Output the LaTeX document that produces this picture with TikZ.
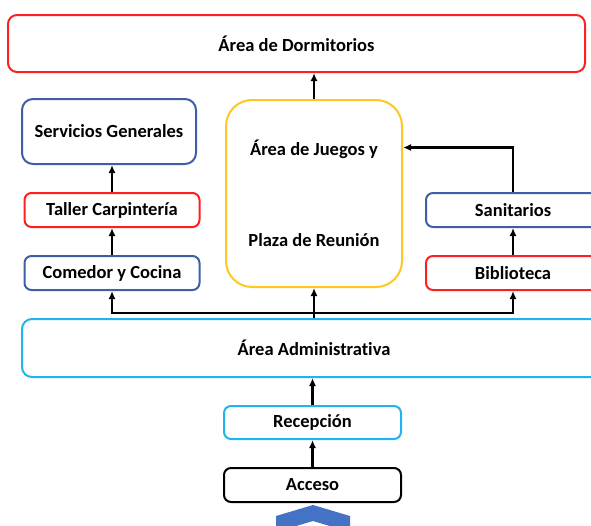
\documentclass[tikz,border=0pt]{standalone}
\usepackage{fontspec}
\setmainfont[Ligatures=NoCommon]{Carlito}
\usetikzlibrary{arrows.meta,positioning}
\definecolor{PLNred}{HTML}{FF1F1F}
\definecolor{PLNblue}{HTML}{3E5FA3}
\definecolor{PLNgold}{HTML}{FFC81E}
\definecolor{PLNsky}{HTML}{1EB4EE}
\definecolor{PLNchev}{HTML}{4472C4}
\tikzset{zonebox/.style={draw,line width=2pt,rounded corners=7pt,fill=white,
 align=center,inner sep=0pt,font=\fontsize{18.5}{22}\selectfont\bfseries},
 flowarr/.style={-{Latex[length=8pt,width=7pt]},line width=2.6pt,draw=black}}

\begin{document}
\begin{tikzpicture}[x=1pt,y=-1pt]
\useasboundingbox (0,0) rectangle (591,525);
\node[zonebox,draw=PLNred,minimum width=577pt,minimum height=57pt,rounded corners=9pt] (dorm) at (296.5,43.5) {Área de Dormitorios};
\node[zonebox,draw=PLNblue,minimum width=174pt,minimum height=65pt,rounded corners=11pt] (serv) at (109,131.5) {Servicios Generales};
\node[zonebox,draw=PLNred,minimum width=175pt,minimum height=34pt] (taller) at (112,210) {Taller Carpintería};
\node[zonebox,draw=PLNblue,minimum width=175pt,minimum height=34pt] (comedor) at (112,273) {Comedor y Cocina};
\node[zonebox,draw=PLNgold,minimum width=176pt,minimum height=187pt,rounded corners=26pt] (juegos) at (314,193.5) {Área de Juegos y\\[69pt]Plaza de Reunión};
\node[zonebox,draw=PLNblue,minimum width=174pt,minimum height=34pt] (sanit) at (513,210) {Sanitarios};
\node[zonebox,draw=PLNred,minimum width=174pt,minimum height=34pt] (biblio) at (513,273) {Biblioteca};
\node[zonebox,draw=PLNsky,minimum width=584pt,minimum height=58pt,rounded corners=10pt] (admin) at (314,348) {Área Administrativa};
\node[zonebox,draw=PLNsky,minimum width=177pt,minimum height=33pt] (recep) at (312.5,422.5) {Recepción};
\node[zonebox,draw=black,minimum width=177pt,minimum height=34pt] (acceso) at (312.5,485) {Acceso};
\coordinate (bus) at (314,313);
% flow between zones
\draw[flowarr] (acceso) -- (recep);
\draw[flowarr] (recep) -- (admin.south -| recep);
\draw[flowarr] (admin) -- (juegos);
\draw[flowarr] (bus) -| (comedor.south);
\draw[flowarr] (bus) -| (biblio.south);
\draw[flowarr] (comedor) -- (taller);
\draw[flowarr] (taller.north) -- (taller.north |- serv.south);
\draw[flowarr] (biblio) -- (sanit);
\draw[flowarr] (sanit.north) |- ([yshift=46pt]juegos.east);
\draw[flowarr] (juegos.north) -- (juegos.north |- dorm.south);
% entrance chevron
\fill[PLNchev] (276,532) -- (276,516) -- (313,505) -- (350,516) -- (350,532) -- (313,521) -- cycle;
\end{tikzpicture}
\end{document}
